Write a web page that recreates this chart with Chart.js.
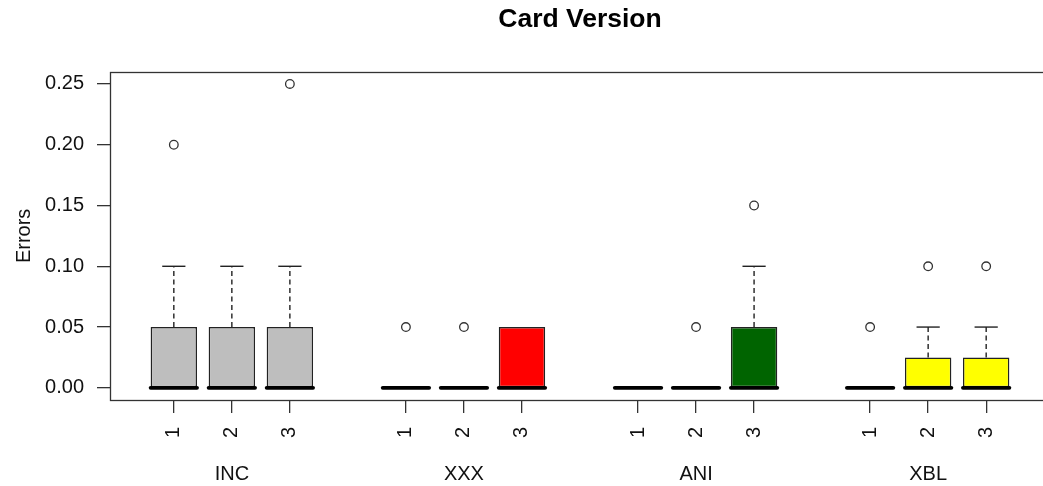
<!DOCTYPE html>
<html><head><meta charset="utf-8">
<script src="https://cdn.jsdelivr.net/npm/chart.js@4.4.1/dist/chart.umd.min.js"></script>
<style>html,body{margin:0;padding:0;overflow:hidden;background:#fff}#wrap{width:1060px;height:486px}</style>
</head><body><div id="wrap"><canvas id="c" width="1060" height="486"></canvas></div>
<script>
const groups = ['INC', 'XXX', 'ANI', 'XBL'];
const versions = ['1', '2', '3'];
const groupColors = ['#BEBEBE', '#FF0000', '#006400', '#FFFF00'];
// one entry per box: INC1..3, XXX1..3, ANI1..3, XBL1..3
const q1          = [0, 0, 0,    0, 0, 0,    0, 0, 0,    0, 0, 0];
const medians     = [0, 0, 0,    0, 0, 0,    0, 0, 0,    0, 0, 0];
const q3          = [0.05, 0.05, 0.05,  0, 0, 0.05,  0, 0, 0.05,  0, 0.025, 0.025];
const whiskerLow  = [0, 0, 0,    0, 0, 0,    0, 0, 0,    0, 0, 0];
const whiskerHigh = [0.10, 0.10, 0.10,  0, 0, 0.05,  0, 0, 0.10,  0, 0.05, 0.05];
const outliers    = [[0.20], [], [0.25],  [0.05], [0.05], [],  [], [0.05], [0.15],  [0.05], [0.10], [0.10]];
const yTicks = [0, 0.05, 0.10, 0.15, 0.20, 0.25];

const positions = q1.map((_, i) => Math.floor(i / 3) * 4 + (i % 3) + 1);
const tickLabels = positions.map((_, i) => versions[i % 3]);
const groupCenters = groups.map((_, g) => g * 4 + 2);
const boxFill = positions.map((_, i) => groupColors[Math.floor(i / 3)]);

const boxData = positions.map((p, i) => ({x: p, y: [q1[i], q3[i]]}));
const outlierData = [];
outliers.forEach((arr, i) => arr.forEach(v => outlierData.push({x: positions[i], y: v})));

const FONT = "'Liberation Sans', Arial, sans-serif";
const XMIN = 0.5 - 0.6, XMAX = 15.5 + 0.6;

const boxPlugin = {
  id: 'boxparts',
  afterDatasetsDraw(chart) {
    const ctx = chart.ctx, xs = chart.scales.x, ys = chart.scales.y;
    const unit = xs.getPixelForValue(1) - xs.getPixelForValue(0);
    const half = unit * 0.4, stapleHalf = half / 2;
    ctx.save();
    positions.forEach((p, i) => {
      const cx = xs.getPixelForValue(p);
      const yq3 = ys.getPixelForValue(q3[i]), yq1 = ys.getPixelForValue(q1[i]);
      const yHi = ys.getPixelForValue(whiskerHigh[i]), yLo = ys.getPixelForValue(whiskerLow[i]);
      ctx.strokeStyle = '#222';
      ctx.lineWidth = 1.4;
      if (whiskerHigh[i] > q3[i]) {
        ctx.setLineDash([5, 3.5]);
        ctx.beginPath(); ctx.moveTo(cx, yq3); ctx.lineTo(cx, yHi); ctx.stroke();
        ctx.setLineDash([]);
        ctx.beginPath(); ctx.moveTo(cx - stapleHalf, yHi); ctx.lineTo(cx + stapleHalf, yHi); ctx.stroke();
      }
      if (whiskerLow[i] < q1[i]) {
        ctx.setLineDash([5, 3.5]);
        ctx.beginPath(); ctx.moveTo(cx, yq1); ctx.lineTo(cx, yLo); ctx.stroke();
        ctx.setLineDash([]);
        ctx.beginPath(); ctx.moveTo(cx - stapleHalf, yLo); ctx.lineTo(cx + stapleHalf, yLo); ctx.stroke();
      }
      const ym = ys.getPixelForValue(medians[i]);
      ctx.strokeStyle = '#000';
      ctx.lineWidth = 3.8;
      ctx.lineCap = 'round';
      ctx.beginPath(); ctx.moveTo(cx - half, ym); ctx.lineTo(cx + half, ym); ctx.stroke();
      ctx.lineCap = 'butt';
    });
    ctx.restore();
  },
  afterDraw(chart) {
    const a = chart.chartArea, ctx = chart.ctx;
    ctx.save();
    ctx.strokeStyle = '#333';
    ctx.lineWidth = 1.3;
    ctx.strokeRect(Math.round(a.left) + 0.5, Math.round(a.top) + 0.5, Math.round(a.right - a.left), Math.round(a.bottom - a.top));
    ctx.restore();
  }
};

new Chart(document.getElementById('c'), {
  type: 'bar',
  data: {
    datasets: [
      {
        type: 'bar', data: boxData, backgroundColor: boxFill, borderColor: '#222',
        borderWidth: 1.5, borderSkipped: false, barPercentage: 0.8, categoryPercentage: 1.0
      },
      {
        type: 'scatter', data: outlierData, showLine: false, pointStyle: 'circle',
        pointRadius: 4.3, pointBorderWidth: 1.3, pointBorderColor: '#333', pointBackgroundColor: 'rgba(0,0,0,0)'
      }
    ]
  },
  options: {
    responsive: false, animation: false, devicePixelRatio: 1,
    layout: {padding: {top: 0, right: 10, bottom: 0, left: 0}},
    plugins: {
      legend: {display: false}, tooltip: {enabled: false},
      title: {
        display: true, text: 'Card Version', fullSize: false, color: '#000',
        font: {family: FONT, size: 26.5, weight: 'bold'}, padding: {top: 4, bottom: 36}
      }
    },
    scales: {
      x: {
        type: 'linear', min: XMIN, max: XMAX, offset: false,
        afterBuildTicks: s => { s.ticks = positions.map(v => ({value: v})); },
        afterFit: s => { s.height = 50; },
        grid: {offset: false, drawOnChartArea: false, drawTicks: true, tickLength: 13, tickColor: '#333', lineWidth: 1.3},
        border: {display: false},
        ticks: {
          autoSkip: false, minRotation: 90, maxRotation: 90, padding: 14, color: '#111',
          font: {family: FONT, size: 20},
          callback: (v, idx) => tickLabels[idx]
        }
      },
      x2: {
        type: 'linear', position: 'bottom', min: XMIN, max: XMAX, offset: false, weight: 1,
        afterBuildTicks: s => { s.ticks = groupCenters.map(v => ({value: v})); },
        afterFit: s => { s.height = 36; },
        grid: {display: false, drawTicks: false, offset: false},
        border: {display: false},
        ticks: {
          autoSkip: false, maxRotation: 0, padding: 12, color: '#111',
          font: {family: FONT, size: 20},
          callback: (v, idx) => groups[idx]
        }
      },
      y: {
        type: 'linear', min: -0.01, max: 0.26,
        afterBuildTicks: s => { s.ticks = yTicks.map(v => ({value: v})); },
        afterFit: s => { s.width = 110; },
        grid: {drawOnChartArea: false, drawTicks: true, tickLength: 13, tickColor: '#333', lineWidth: 1.3},
        border: {display: false},
        title: {display: true, text: 'Errors', color: '#111', font: {family: FONT, size: 20}, padding: {top: 12, bottom: 0}},
        ticks: {
          padding: 13, color: '#111', font: {family: FONT, size: 20},
          callback: v => Number(v).toFixed(2)
        }
      }
    }
  },
  plugins: [boxPlugin]
});
</script></body></html>
